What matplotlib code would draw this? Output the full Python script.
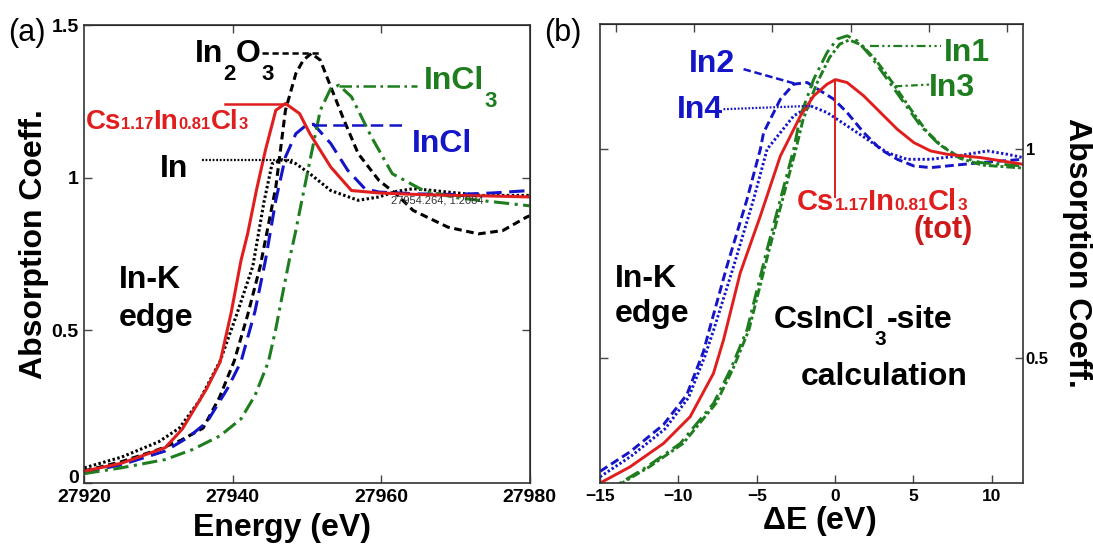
import matplotlib
matplotlib.use('Agg')
import matplotlib.pyplot as plt
from matplotlib.offsetbox import TextArea, HPacker, AnnotationBbox

plt.rcParams['font.family'] = ['Liberation Sans', 'DejaVu Sans']
plt.rcParams['font.weight'] = 'bold'
plt.rcParams['mathtext.fontset'] = 'custom'
plt.rcParams['mathtext.rm'] = 'Liberation Sans:bold'
plt.rcParams['mathtext.bf'] = 'Liberation Sans:bold'
plt.rcParams['mathtext.default'] = 'bf'

RED = '#e01e1e'
BLUE = '#1414c8'
GREEN = '#1e7d1e'

# ---- panel (a): measured spectra ----
cs_x = [27920, 27925, 27930.9, 27933.2, 27936.5, 27938.3, 27939.8, 27941.1, 27942.0, 27943.2, 27944.4,
        27945.8, 27947.1, 27949.0, 27950.4, 27953.2, 27956.0, 27959.7, 27965, 27970, 27975, 27980]
cs_y = [0.039, 0.065, 0.116, 0.177, 0.31, 0.397, 0.56, 0.728, 0.816, 0.96, 1.09,
        1.221, 1.243, 1.21, 1.144, 1.035, 0.958, 0.95, 0.945, 0.942, 0.94, 0.937]

in_x = [27920, 27925, 27930, 27932.8, 27935.5, 27938.3, 27940.5, 27942.7, 27944.2, 27945.3, 27946.7,
        27948.5, 27950.4, 27953.2, 27956.9, 27959.7, 27962, 27964.3, 27967, 27969, 27973.6, 27980]
in_y = [0.05, 0.085, 0.135, 0.18, 0.27, 0.40, 0.55, 0.71, 0.92, 1.046, 1.059,
        1.046, 1.013, 0.958, 0.926, 0.937, 0.955, 0.964, 0.958, 0.953, 0.942, 0.942]

in2o3_x = [27920, 27925, 27930, 27933, 27936.0, 27938.2, 27940.2, 27942, 27943.7, 27945.8, 27947.1,
           27948.5, 27949.5, 27950.6, 27951.8, 27953.2, 27955, 27956.9, 27959.7, 27962, 27964.3,
           27969, 27973.1, 27976.4, 27979.6, 27980]
in2o3_y = [0.04, 0.07, 0.11, 0.14, 0.18, 0.28, 0.40, 0.55, 0.71, 0.969, 1.221,
           1.341, 1.385, 1.407, 1.385, 1.298, 1.188, 1.079, 0.991, 0.947, 0.893,
           0.838, 0.816, 0.827, 0.871, 0.875]

incl_x = [27920, 27925, 27930.9, 27934, 27936.5, 27939.3, 27941.1, 27943.0, 27944.4, 27945.8, 27947.1,
          27948.5, 27949.9, 27950.9, 27953.2, 27955.5, 27957.8, 27959.7, 27965, 27970, 27975, 27980]
incl_y = [0.035, 0.06, 0.105, 0.15, 0.199, 0.31, 0.397, 0.563, 0.729, 0.926, 1.068,
          1.144, 1.172, 1.175, 1.112, 1.024, 0.964, 0.953, 0.947, 0.945, 0.95, 0.958]

incl3_x = [27920, 27925, 27930.9, 27934.6, 27938.3, 27941.1, 27943.0, 27944.8, 27945.8, 27946.7, 27947.6,
           27948.4, 27950.4, 27951.8, 27953.2, 27954.3, 27956.0, 27958.7, 27961.5, 27965.7, 27970,
           27973.6, 27980]
incl3_y = [0.031, 0.05, 0.077, 0.11, 0.155, 0.21, 0.287, 0.397, 0.505, 0.618, 0.728,
           0.816, 1.056, 1.221, 1.292, 1.303, 1.265, 1.133, 1.013, 0.958, 0.935,
           0.925, 0.908]

# ---- panel (b): site calculations ----
in1_x = [-15, -13.72, -12.01, -9.88, -7.76, -6.69, -5.62, -4.34, -3.49, -2.64, -2.21, -1.36, -0.51,
         0.13, 0.77, 1.41, 2.26, 3.33, 4.39, 5.46, 6.52, 7.80, 9.30, 12]
in1_y = [0.185, 0.2, 0.239, 0.295, 0.391, 0.471, 0.567, 0.76, 0.88, 1.0, 1.08, 1.168, 1.232,
         1.264, 1.272, 1.260, 1.224, 1.168, 1.112, 1.056, 1.016, 0.984, 0.968, 0.96]

in3_x = [-15, -13.6, -11.85, -9.7, -7.6, -6.55, -5.5, -4.2, -3.35, -2.5, -2.05, -1.2, -0.35,
         0.3, 0.9, 1.7, 2.6, 3.7, 4.75, 5.8, 6.8, 8.0, 9.4, 12]
in3_y = [0.182, 0.2, 0.239, 0.295, 0.391, 0.471, 0.567, 0.76, 0.88, 1.0, 1.07, 1.155, 1.22,
         1.252, 1.262, 1.25, 1.214, 1.158, 1.1, 1.045, 1.008, 0.978, 0.962, 0.955]

in2_x = [-15, -13.08, -10.95, -9.46, -8.4, -7.97, -6.9, -5.62, -4.77, -4.56, -3.49, -2.64, -1.78,
         -0.08, 0.77, 1.83, 2.9, 3.97, 5.03, 6.1, 7.16, 9.3, 12]
in2_y = [0.228, 0.275, 0.34, 0.412, 0.515, 0.575, 0.72, 0.88, 1.0, 1.04, 1.12, 1.156, 1.16,
         1.12, 1.088, 1.04, 1.0, 0.976, 0.96, 0.956, 0.96, 0.968, 0.976]

in4_x = [-15, -13.0, -10.85, -9.35, -8.3, -7.75, -6.47, -5.2, -4.34, -3.49, -2.64, -1.57, -0.51,
         0.77, 2.05, 3.33, 4.6, 6.1, 7.8, 9.72, 11.0, 12]
in4_y = [0.215, 0.265, 0.33, 0.405, 0.505, 0.567, 0.72, 0.88, 1.0, 1.04, 1.08, 1.104, 1.088,
         1.056, 1.024, 0.992, 0.976, 0.976, 0.984, 0.996, 0.988, 0.98]

tot_x = [-15, -13.08, -10.95, -9.25, -7.76, -7.12, -6.05, -4.77, -3.49, -3.06, -2.21, -1.36, -0.51,
         0.02, 0.77, 1.83, 2.9, 3.97, 5.03, 6.1, 7.16, 9.3, 12]
tot_y = [0.2, 0.239, 0.295, 0.359, 0.463, 0.543, 0.704, 0.84, 0.984, 1.016, 1.08, 1.128, 1.156,
         1.167, 1.16, 1.128, 1.088, 1.048, 1.016, 0.996, 0.988, 0.98, 0.964]

# label leader lines: (x0, x1, y)
lead_a = {'cs': (27939.0, 27947.1, 1.24), 'in': (27935.8, 27948.1, 1.059),
          'in2o3': (27943.9, 27951.8, 1.407), 'incl': (27950.9, 27963.4, 1.172),
          'incl3': (27954.3, 27964.8, 1.30)}

ls_dot = (0, (0.8, 0.8))
ls_dash_k = (0, (2.5, 1.5))
ls_dash_b = (0, (5, 2.5))
ls_dashdot = (0, (5, 1.8, 1, 1.8))


def mixed_label(ax, x, y, parts, color):
    areas = [TextArea(s, textprops=dict(color=color, fontsize=fs, fontweight='bold')) for s, fs in parts]
    box = HPacker(children=areas, align='baseline', pad=0, sep=0)
    ab = AnnotationBbox(box, (x, y), xycoords='data', box_alignment=(0, 0.5),
                        frameon=False, pad=0, annotation_clip=False)
    ax.add_artist(ab)


def dropped_label(ax, x, y, pieces, color='black', fs=23, subfs=16):
    # pieces alternate: normal text, dropped subscript, normal text, ...
    first = ax.text(x, y, pieces[0], fontsize=fs, color=color, va='baseline', ha='left')
    prev = first
    for i, s in enumerate(pieces[1:]):
        if i % 2 == 0:
            prev = ax.annotate(s, xy=(1, 0), xycoords=(prev, first), xytext=(0.3, 3.5),
                               textcoords='offset points', fontsize=subfs, color=color,
                               va='top', ha='left')
        else:
            prev = ax.annotate(s, xy=(1, 0), xycoords=(prev, first), fontsize=fs,
                               color=color, va='bottom', ha='left')


def style_axes(ax):
    for s in ax.spines.values():
        s.set_linewidth(1.2)
        s.set_color('#333333')
    ax.tick_params(direction='in', length=6, width=1, color='#444444')


fig = plt.figure(figsize=(10.93, 5.44), dpi=100)

# ================= panel (a) =================
ax1 = fig.add_axes([0.0772, 0.112, 0.4073, 0.842])
lw = 2.2
ax1.plot(in_x, in_y, color='black', lw=lw, ls=ls_dot)
ax1.plot(in2o3_x, in2o3_y, color='black', lw=lw, ls=ls_dash_k)
ax1.plot(incl_x, incl_y, color=BLUE, lw=lw, ls=ls_dash_b)
ax1.plot(incl3_x, incl3_y, color=GREEN, lw=lw, ls=ls_dashdot)
ax1.plot(cs_x, cs_y, color=RED, lw=lw)

x0, x1, yy = lead_a['cs']
ax1.plot([x0, x1], [yy, yy], color=RED, lw=1.8)
x0, x1, yy = lead_a['in']
ax1.plot([x0, x1], [yy, yy], color='black', lw=1.6, ls=ls_dot)
x0, x1, yy = lead_a['in2o3']
ax1.plot([x0, x1], [yy, yy], color='black', lw=1.8, ls=ls_dash_k)
x0, x1, yy = lead_a['incl']
ax1.plot([x0, x1], [yy, yy], color=BLUE, lw=1.8, ls=ls_dash_b)
x0, x1, yy = lead_a['incl3']
ax1.plot([x0, x1], [yy, yy], color=GREEN, lw=1.8, ls=ls_dashdot)

ax1.set_xlim(27920, 27980)
ax1.set_ylim(0, 1.5)
ax1.set_xticks([27920, 27940, 27960, 27980])
ax1.set_yticks([0, 0.5, 1, 1.5])
ax1.set_yticklabels(['0', '0.5', '1', '1.5'])
style_axes(ax1)
ax1.tick_params(labelsize=14, pad=4)
ax1.get_yticklabels()[0].set_verticalalignment('baseline')
top1 = ax1.secondary_xaxis('top')
top1.set_xticks([27940, 27960])
top1.set_xticklabels([])
top1.tick_params(direction='in', length=6, width=1, color='#444444')
right1 = ax1.secondary_yaxis('right')
right1.set_yticks([0.5, 1])
right1.set_yticklabels([])
right1.tick_params(direction='in', length=6, width=1, color='#444444')

dropped_label(ax1, 27934.85, 1.38, ['In', '2', 'O', '3'])
dropped_label(ax1, 27965.7, 1.29, ['InCl', '3'], color=GREEN)
ax1.text(27964.1, 1.084, 'InCl', fontsize=23, color=BLUE, va='baseline', ha='left')
ax1.text(27930.2, 1.002, 'In', fontsize=23, va='baseline', ha='left')
mixed_label(ax1, 27920.2, 1.182,
            [('Cs', 20), ('1.17', 12), ('In', 20), ('0.81', 12), ('Cl', 20), ('3', 12)], RED)
ax1.text(27924.6, 0.64, 'In-K', fontsize=23, va='baseline', ha='left')
ax1.text(27924.6, 0.513, 'edge', fontsize=23, va='baseline', ha='left')
ax1.text(27961.3, 0.925, '27954.264, 1.2084', fontsize=8, fontweight='normal',
         color='#333333', va='center', ha='left')

fig.text(0.258, 0.029, 'Energy (eV)', fontsize=23, ha='center', va='center')
fig.text(0.031, 0.552, 'Absorption Coeff.', fontsize=23, rotation=90, ha='center', va='center')
fig.text(0.025, 0.94, '(a)', fontsize=22, fontweight='normal', ha='center', va='center')

# ================= panel (b) =================
ax2 = fig.add_axes([0.549, 0.112, 0.387, 0.8437])
lw2 = 2.1
ax2.plot(in2_x, in2_y, color=BLUE, lw=lw2, ls=(0, (3, 1.5)))
ax2.plot(in4_x, in4_y, color=BLUE, lw=lw2, ls=ls_dot)
ax2.plot(in3_x, in3_y, color=GREEN, lw=lw2, ls=(0, (3, 1, 1, 1)))
ax2.plot(in1_x, in1_y, color=GREEN, lw=lw2, ls=ls_dashdot)
ax2.plot(tot_x, tot_y, color=RED, lw=lw2)

# leaders in panel (b)
ax2.plot([2.26, 6.74], [1.248, 1.248], color=GREEN, lw=1.6, ls=(0, (4, 1.5, 1, 1.5, 1, 1.5)))
ax2.plot([3.86, 6.0], [1.151, 1.155], color=GREEN, lw=1.6, ls=(0, (3, 1.5, 1, 1.5)))
ax2.plot([-5.84, -2.43], [1.192, 1.156], color=BLUE, lw=1.8, ls=(0, (3, 1.5)))
ax2.plot([-7.12, -1.57], [1.096, 1.104], color=BLUE, lw=1.6, ls=ls_dot)
ax2.plot([0.02, 0.02], [1.167, 0.885], color=RED, lw=1.4)

ax2.set_xlim(-15, 12)
ax2.set_ylim(0.2, 1.3)
ax2.set_xticks([-15, -10, -5, 0, 5, 10])
ax2.set_yticks([0.5, 1])
ax2.set_yticklabels(['0.5', '1'])
style_axes(ax2)
ax2.tick_params(axis='x', labelsize=12.5, pad=4)
ax2.tick_params(axis='y', left=True, right=True, labelleft=False, labelright=True,
                labelsize=12, pad=2)
top2 = ax2.secondary_xaxis('top')
top2.set_xticks([-14, -9, -4, 1, 6, 11])
top2.set_xticklabels([])
top2.tick_params(direction='in', length=6, width=1, color='#444444')

ax2.text(6.95, 1.212, 'In1', fontsize=23, color=GREEN, va='baseline', ha='left')
ax2.text(6.0, 1.128, 'In3', fontsize=23, color=GREEN, va='baseline', ha='left')
ax2.text(-9.35, 1.184, 'In2', fontsize=23, color=BLUE, va='baseline', ha='left')
ax2.text(-10.1, 1.076, 'In4', fontsize=23, color=BLUE, va='baseline', ha='left')
mixed_label(ax2, -2.42, 0.874,
            [('Cs', 21), ('1.17', 12.5), ('In', 21), ('0.81', 12.5), ('Cl', 21), ('3', 12.5)], RED)
ax2.text(6.93, 0.788, '(tot)', fontsize=22, color='#cc1a1a', va='baseline', ha='center')
ax2.text(-14.04, 0.671, 'In-K', fontsize=23, va='baseline', ha='left')
ax2.text(-14.04, 0.587, 'edge', fontsize=23, va='baseline', ha='left')
dropped_label(ax2, -3.94, 0.571, ['CsInCl', '3', '-site'], subfs=15)
ax2.text(-2.21, 0.435, 'calculation', fontsize=23, va='baseline', ha='left')

fig.text(0.749, 0.042, r'$\Delta$E (eV)', fontsize=23, ha='center', va='center')
fig.text(0.985, 0.535, 'Absorption Coeff.', fontsize=23, rotation=270, ha='center', va='center')
fig.text(0.515, 0.94, '(b)', fontsize=22, fontweight='normal', ha='center', va='center')

fig.savefig('out.png', dpi=100)
